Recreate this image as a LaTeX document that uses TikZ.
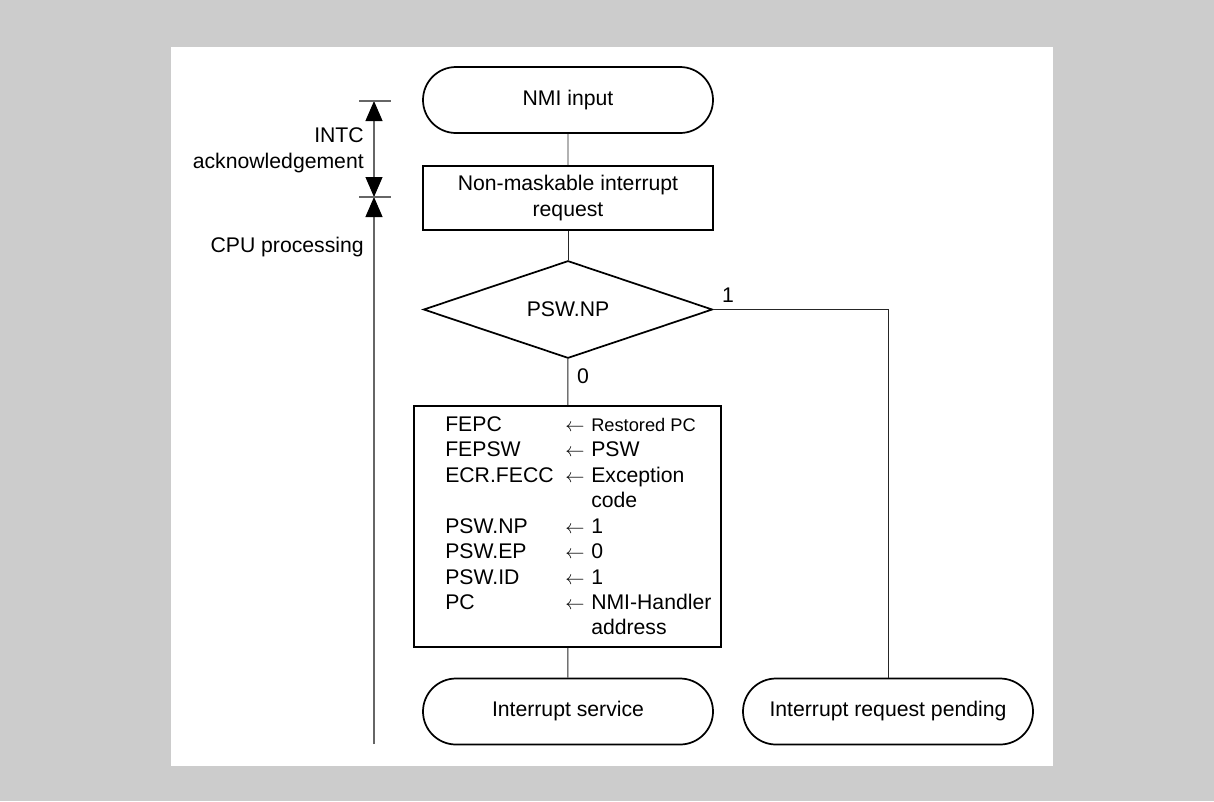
\documentclass[tikz,border=0pt]{standalone}
\usepackage{fontspec}
\setmainfont{Liberation Sans}
\usetikzlibrary{shapes.geometric,shapes.misc,arrows.meta}
\newcommand{\lar}{{\fontsize{13.5}{19.1}\selectfont$\leftarrow$}}
\newcommand{\smalltxt}[1]{{\fontsize{13.7}{19.1}\selectfont #1}}
\begin{document}
\begin{tikzpicture}[x=0.75pt,y=-0.75pt,
  font=\fontsize{15.9}{19.1}\selectfont,
  shape line/.style={draw=black,line width=1.3pt},
  term/.style={shape line,rounded rectangle,minimum width=217.5pt,minimum height=49.5pt,inner sep=0pt},
  procbox/.style={shape line,rectangle,minimum width=217.5pt,minimum height=48pt,inner sep=0pt,align=center},
  decision/.style={shape line,diamond,minimum width=216.75pt,minimum height=71.25pt,inner sep=0pt},
  bigbox/.style={shape line,rectangle,minimum width=230.25pt,minimum height=180.75pt,inner sep=0pt},
  conn/.style={draw=black!85,line width=0.7pt},
  dimline/.style={draw=black!60,line width=0.8pt},
  dimtip/.tip={Triangle[length=15pt,width=12.75pt,color=black]},
  plain label/.style={inner sep=0pt}
]
% background and panel
\fill[black!20] (0,0) rectangle (1214,801);
\fill[white] (171,47) rectangle (1053,766);
\useasboundingbox (0,0) rectangle (1214,801);

% dimension line on the left
\coordinate (dtop) at (374,101);
\coordinate (dmid) at (374,197);
\coordinate (dbot) at (374,744);
\draw[dimline,dimtip-dimtip] (dtop) -- (dmid);
\draw[dimline,-dimtip] (dbot) -- (dmid);
\draw[dimline] (359,101) -- (391,101);
\draw[dimline] (359,197) -- (391,197);
\node[plain label,anchor=east,align=right] (intc) at (364,150.5) {INTC\\acknowledgement};
\node[plain label,anchor=east] (cpu) at (364,247) {CPU processing};

% flow nodes
\node[term] (nmi) at (568,100) {NMI input};
\node[procbox] (req) at (568,198) {Non-maskable interrupt\\[1pt]request};
\node[decision] (np) at (568,309.5) {PSW.NP};
\node[bigbox] (ops) at (567.5,526.5) {};
\node[plain label,anchor=west] (opstext) at (445,528) {%
\begin{tabular}{@{}p{90pt}@{}p{19.5pt}@{}l@{}}
FEPC & \lar & \smalltxt{Restored PC}\\
FEPSW & \lar & PSW\\
ECR.FECC & \lar & Exception\\
 & & code\\
PSW.NP & \lar & 1\\
PSW.EP & \lar & 0\\
PSW.ID & \lar & 1\\
PC & \lar & NMI-Handler\\
 & & address
\end{tabular}};
\node[term] (svc) at (568,711.5) {Interrupt service};
\node[term] (pend) at (888,711.5) {Interrupt request pending};

% connectors
\draw[conn] (nmi) -- (req);
\draw[conn] (req) -- (np);
\draw[conn] (np) -- (ops);
\draw[conn] (ops) -- (svc);
\draw[conn] (np.east) -| (pend.north);

% branch labels
\node[plain label] (one) at (728,295) {1};
\node[plain label] (zero) at (583,376) {0};
\end{tikzpicture}
\end{document}
